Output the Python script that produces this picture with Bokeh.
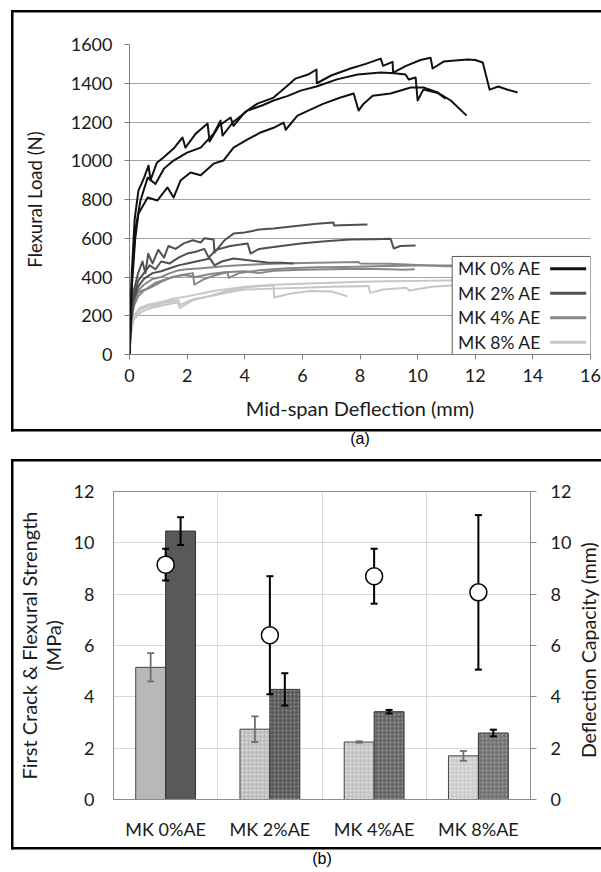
import numpy as np
from bokeh.plotting import figure
from bokeh.layouts import row
from bokeh.models import (Range1d, LinearAxis, FixedTicker, ColumnDataSource, Whisker,
                          TeeHead, Label, Title)
from bokeh.core.properties import value
from bokeh.embed import file_html
from bokeh.resources import INLINE

FONT = "Lato"

# ---------------- panel (a): flexural load vs mid-span deflection ----------------
x_ticks = [0, 2, 4, 6, 8, 10, 12, 14, 16]
y_ticks = [0, 200, 400, 600, 800, 1000, 1200, 1400, 1600]

# MK 0% AE specimens
mk0_1_x = [0, 0.08, 0.18, 0.31, 0.5, 0.66, 0.73, 0.95, 1.18, 1.53, 1.84, 1.94, 2.3, 2.71, 2.78, 3.1,
           3.51, 3.61, 4.0, 4.44, 5.0, 5.49, 5.76, 6.2, 6.49, 6.5, 7.0, 7.67, 8.2, 8.72, 8.8, 9.13,
           9.15, 9.6, 10.1, 10.45, 10.52, 10.9, 11.3, 11.74, 12.0, 12.26, 12.5, 12.8, 13.1, 13.47]
mk0_1_y = [0, 420, 700, 846, 910, 975, 900, 990, 1017, 1063, 1120, 1068, 1140, 1192, 1099, 1180,
           1223, 1180, 1250, 1295, 1326, 1388, 1424, 1445, 1471, 1400, 1440, 1476, 1500, 1527, 1490, 1510,
           1455, 1490, 1520, 1532, 1476, 1512, 1518, 1522, 1520, 1507, 1367, 1383, 1368, 1352]
mk0_2_x = [0, 0.08, 0.2, 0.38, 0.63, 0.9, 1.2, 1.53, 2.0, 2.47, 2.92, 3.16, 3.23, 3.6, 4.1, 4.6,
           5.0, 5.5, 5.94, 6.49, 7.2, 7.92, 8.72, 9.2, 9.58, 9.69, 9.93, 10.0, 10.2, 10.7, 10.97]
mk0_2_y = [0, 380, 640, 795, 913, 880, 960, 1001, 1042, 1068, 1140, 1207, 1130, 1200, 1259, 1285,
           1311, 1335, 1362, 1383, 1420, 1445, 1455, 1452, 1445, 1419, 1430, 1311, 1367, 1350, 1320]
mk0_3_x = [0, 0.08, 0.2, 0.31, 0.63, 0.97, 1.32, 1.53, 1.77, 2.12, 2.47, 2.92, 3.26, 3.61, 4.1, 4.55,
           5.0, 5.35, 5.42, 5.83, 6.3, 6.74, 7.3, 7.78, 7.95, 8.1, 8.44, 9.06, 9.76, 10.2, 10.7, 11.15, 11.7]
mk0_3_y = [0, 350, 600, 727, 810, 795, 862, 810, 898, 939, 925, 985, 1001, 1068, 1110, 1146,
           1170, 1197, 1160, 1233, 1265, 1295, 1325, 1347, 1259, 1290, 1336, 1347, 1378, 1378, 1352, 1311, 1233]

# MK 2% AE specimens
mk2_1_x = [0, 0.05, 0.15, 0.3, 0.45, 0.55, 0.65, 0.8, 1.0, 1.2, 1.35, 1.6, 1.9, 2.2, 2.47, 2.6,
           2.92, 2.95, 3.3, 3.61, 4.0, 4.5, 5.0, 5.94, 6.5, 7.08, 7.1, 7.6, 8.26]
mk2_1_y = [0, 200, 330, 420, 480, 420, 520, 470, 540, 500, 560, 545, 575, 590, 578, 600,
           593, 526, 590, 624, 630, 645, 650, 666, 675, 681, 666, 668, 671]
mk2_2_x = [0, 0.05, 0.15, 0.3, 0.5, 0.7, 0.9, 1.1, 1.4, 1.7, 2.0, 2.3, 2.6, 2.75, 3.0, 3.5,
           4.1, 4.2, 4.5, 5.0, 5.94, 6.8, 7.67, 8.5, 9.06, 9.17, 9.4, 9.93]
mk2_2_y = [0, 180, 300, 380, 420, 460, 440, 480, 470, 500, 521, 530, 545, 500, 540, 560,
           573, 521, 545, 555, 573, 585, 593, 595, 598, 547, 560, 562]
mk2_3_x = [0, 0.05, 0.15, 0.3, 0.5, 0.8, 1.1, 1.4, 1.7, 2.0, 2.47, 2.8, 2.95, 3.2, 3.61, 4.2, 4.79, 5.3, 5.7]
mk2_3_y = [0, 170, 280, 350, 390, 420, 430, 445, 460, 470, 485, 495, 460, 480, 495, 485, 475, 473, 470]

# MK 4% AE specimens
mk4_1_x = [0, 0.05, 0.15, 0.3, 0.5, 0.8, 1.1, 1.4, 1.67, 2.0, 2.5, 3.0, 3.5, 4.0, 5.0, 6.0,
           7.0, 7.95, 8.0, 9.0, 10.0, 11.0, 12.0, 13.0, 13.5]
mk4_1_y = [0, 170, 270, 330, 360, 390, 400, 420, 433, 440, 445, 452, 458, 462, 468, 472,
           475, 478, 470, 468, 462, 456, 455, 455, 455]
mk4_2_x = [0, 0.05, 0.15, 0.3, 0.5, 0.8, 1.1, 1.4, 1.8, 2.2, 2.25, 2.6, 3.0, 3.4, 3.45, 3.8,
           4.5, 5.5, 6.5, 7.5, 8.5, 9.5, 10.5, 11.5, 12.5, 13.0]
mk4_2_y = [0, 150, 250, 300, 330, 350, 375, 395, 410, 420, 360, 390, 410, 425, 395, 420,
           435, 445, 450, 452, 455, 458, 460, 460, 462, 462]
mk4_3_x = [0, 0.05, 0.15, 0.3, 0.6, 0.9, 1.2, 1.5, 1.9, 2.3, 2.8, 3.3, 4.0, 4.5, 5.0, 6.0,
           7.0, 8.0, 9.0, 9.5, 9.9]
mk4_3_y = [0, 160, 260, 320, 340, 370, 385, 400, 410, 400, 415, 425, 430, 420, 432, 438,
           440, 442, 440, 438, 440]

# MK 8% AE specimens
mk8_1_x = [0, 0.05, 0.15, 0.38, 0.6, 0.83, 1.2, 1.67, 1.75, 2.2, 2.81, 3.3, 3.96, 4.5, 5.0,
           5.02, 5.6, 6.28, 7.0, 7.57]
mk8_1_y = [0, 110, 180, 217, 232, 243, 255, 268, 240, 280, 304, 325, 346, 352, 356,
           294, 315, 328, 325, 300]
mk8_2_x = [0, 0.05, 0.15, 0.35, 0.6, 0.9, 1.2, 1.6, 2.0, 2.5, 3.0, 3.5, 4.0, 5.0, 6.0, 7.0,
           8.0, 9.0, 10.0, 11.0, 12.0, 13.0]
mk8_2_y = [0, 120, 200, 240, 255, 265, 275, 290, 300, 315, 330, 340, 350, 360, 365, 370,
           375, 378, 380, 382, 383, 383]
mk8_3_x = [0, 0.05, 0.15, 0.35, 0.6, 0.9, 1.3, 1.7, 1.75, 2.2, 2.8, 3.4, 4.0, 5.0, 6.0, 7.0,
           8.0, 8.3, 8.35, 8.8, 9.6, 9.7, 10.5, 11.2]
mk8_3_y = [0, 110, 190, 230, 245, 255, 270, 280, 255, 285, 300, 320, 335, 340, 345, 350,
           352, 353, 318, 335, 345, 330, 350, 356]

series_names = ["MK 0% AE", "MK 2% AE", "MK 4% AE", "MK 8% AE"]
series = [
    [(mk0_1_x, mk0_1_y), (mk0_2_x, mk0_2_y), (mk0_3_x, mk0_3_y)],
    [(mk2_1_x, mk2_1_y), (mk2_2_x, mk2_2_y), (mk2_3_x, mk2_3_y)],
    [(mk4_1_x, mk4_1_y), (mk4_2_x, mk4_2_y), (mk4_3_x, mk4_3_y)],
    [(mk8_1_x, mk8_1_y), (mk8_2_x, mk8_2_y), (mk8_3_x, mk8_3_y)],
]
series_colors = ["#111111", "#505050", "#878787", "#c6c6c6"]


def panel_box(width, top, bottom, left=None, lw=2.5):
    """CSS background painting the black panel border behind a transparent canvas border.

    Horizontal rules run from `left` (or the element's left edge) to its right edge;
    a vertical rule is drawn at `left` when given.
    """
    x0 = 0 if left is None else left
    w = width - x0
    layers = [(f"{w}px {lw}px", f"{x0}px {top}px"), (f"{w}px {lw}px", f"{x0}px {bottom}px")]
    if left is not None:
        layers.append((f"{lw}px {bottom - top + lw}px", f"{left}px {top}px"))
    return {
        "background-color": "white",
        "background-image": ", ".join(["linear-gradient(#000, #000)"] * len(layers)),
        "background-repeat": "no-repeat",
        "background-size": ", ".join(s for s, _ in layers),
        "background-position": ", ".join(p for _, p in layers),
    }


# frame geometry of panel (a), in canvas pixels
A_W, A_H = 601, 456
A_LEFT, A_RIGHT, A_TOP, A_BOTTOM = 129, 590, 44, 354

p1 = figure(width=A_W, height=A_H, x_range=Range1d(0, 16), y_range=Range1d(0, 1600),
            output_backend="svg", toolbar_location=None,
            min_border_left=A_LEFT, min_border_right=A_W - A_RIGHT,
            min_border_top=A_TOP, min_border_bottom=A_H - A_BOTTOM)
p1.border_fill_alpha = 0
p1.background_fill_color = "white"
p1.styles = panel_box(A_W, top=10, bottom=429, left=11)
p1.outline_line_color = None
p1.xgrid.visible = False
p1.ygrid.grid_line_color = "#a3a3a3"
p1.ygrid.ticker = FixedTicker(ticks=y_ticks)
p1.xaxis.ticker = FixedTicker(ticks=x_ticks)
p1.yaxis.ticker = FixedTicker(ticks=y_ticks)
for ax in (p1.xaxis[0], p1.yaxis[0]):
    ax.axis_line_color = "#7f7f7f"
    ax.major_tick_line_color = "#7f7f7f"
    ax.major_tick_in = 0
    ax.major_tick_out = 5
    ax.minor_tick_line_color = None
    ax.major_label_text_font = FONT
    ax.major_label_text_font_size = "18px"
    ax.major_label_text_color = "#1a1a1a"
    ax.axis_label_text_font = FONT
    ax.axis_label_text_font_style = "normal"
    ax.axis_label_text_color = "#1a1a1a"
p1.yaxis.axis_label = "Flexural Load (N)"
p1.yaxis.axis_label_text_font_size = "18.5px"
p1.xaxis.axis_label = "Mid-span Deflection (mm)"
p1.xaxis.axis_label_text_font_size = "20px"
p1.yaxis.major_label_standoff = 12
p1.yaxis.axis_label_standoff = 22
p1.xaxis.major_label_standoff = 9
p1.xaxis.axis_label_standoff = 11

# lighter series first so the black curves sit on top
for gi in [3, 2, 1, 0]:
    for xs, ys in series[gi]:
        p1.line(xs, ys, line_color=series_colors[gi], line_width=2, line_join="round")

# legend: white box, names on the left, line samples on the right
box_left, box_top = 11.2, 506
row_h = box_top / len(series_names)
row_y = [box_top - (i + 0.5) * row_h for i in range(len(series_names))]
p1.quad(left=box_left, right=16, bottom=0, top=box_top, fill_color="white",
        line_color="#595959", line_width=1)
p1.segment(x0=14.6, x1=15.85, y0=row_y, y1=row_y, line_color=series_colors, line_width=3)
for name, yy in zip(series_names, row_y):
    p1.add_layout(Label(x=box_left + 0.2, y=yy, text=name, text_baseline="middle",
                        text_font=FONT, text_font_size="17.5px", text_color="#1a1a1a"))

p1.add_layout(Title(text="(a)", align="center", offset=300 - (A_LEFT + A_RIGHT) / 2,
                    standoff=10, text_font="Liberation Sans", text_font_size="16px",
                    text_font_style="normal", text_color="black"), "below")

# ---------------- panel (b): strengths and deflection capacity ----------------
mixes = ["MK 0%AE", "MK 2%AE", "MK 4%AE", "MK 8%AE"]
first_crack = [5.15, 2.74, 2.24, 1.70]
first_crack_err = [0.55, 0.50, 0.03, 0.19]
flexural = [10.46, 4.29, 3.42, 2.59]
flexural_err = [0.54, 0.63, 0.07, 0.13]
deflection = [9.15, 6.40, 8.70, 8.07]
deflection_err = [0.62, 2.30, 1.07, 3.01]
strength_ticks = [0, 2, 4, 6, 8, 10, 12]

fc_fill = ["#b8b8b8", "#bdbdbd", "#c4c4c4", "#cdcdcd"]
fl_fill = ["#595959", "#5c5c5c", "#676767", "#747474"]
patterns = [" ", "dot", "dot", "dot"]

xc = np.arange(len(mixes)) + 0.5
bar_w = 0.287
fc = np.array(first_crack)
fl = np.array(flexural)
dv = np.array(deflection)
src = ColumnDataSource(dict(
    x=xc, x_fc=xc - bar_w / 2, x_fl=xc + bar_w / 2,
    fc=fc, fc_lo=fc - np.array(first_crack_err), fc_hi=fc + np.array(first_crack_err),
    fl=fl, fl_lo=fl - np.array(flexural_err), fl_hi=fl + np.array(flexural_err),
    dv=dv, dv_lo=dv - np.array(deflection_err), dv_hi=dv + np.array(deflection_err),
    fc_fill=fc_fill, fl_fill=fl_fill, pat=patterns,
))

# frame geometry of panel (b); a narrow strip to its right carries the right-hand title
B_H = 416
STRIP_W = 27
B_W = 601 - STRIP_W
B_LEFT, B_RIGHT, B_TOP, B_BOTTOM = 113, 531, 35, 346
BOX_TOP, BOX_BOTTOM = 3, 391

p2 = figure(width=B_W, height=B_H, x_range=Range1d(0, 4), y_range=Range1d(0, 12),
            output_backend="svg", toolbar_location=None,
            min_border_left=B_LEFT, min_border_right=B_W - B_RIGHT,
            min_border_top=B_TOP, min_border_bottom=B_H - B_BOTTOM)
p2.border_fill_alpha = 0
p2.background_fill_color = "white"
p2.styles = panel_box(B_W, top=BOX_TOP, bottom=BOX_BOTTOM, left=11)
p2.extra_y_ranges = {"defl": Range1d(0, 12)}
p2.outline_line_color = "#8c8c8c"
p2.ygrid.grid_line_color = "#d9d9d9"
p2.ygrid.ticker = FixedTicker(ticks=strength_ticks)
p2.xgrid.grid_line_color = "#d9d9d9"
p2.xgrid.ticker = FixedTicker(ticks=[1, 2, 3])

p2.xaxis.ticker = FixedTicker(ticks=list(xc))
p2.xaxis.major_label_overrides = {float(v): m for v, m in zip(xc, mixes)}
left_axis = p2.yaxis[0]
left_axis.ticker = FixedTicker(ticks=strength_ticks)
right_axis = LinearAxis(y_range_name="defl", ticker=FixedTicker(ticks=strength_ticks))
p2.add_layout(right_axis, "right")
for ax in (p2.xaxis[0], left_axis, right_axis):
    ax.axis_line_color = "#8c8c8c"
    ax.major_tick_line_color = "#8c8c8c"
    ax.major_tick_in = 0
    ax.major_tick_out = 0
    ax.minor_tick_line_color = None
    ax.major_label_text_font = FONT
    ax.major_label_text_font_size = "18px"
    ax.major_label_text_color = "#1a1a1a"
    ax.axis_label_text_font = FONT
    ax.axis_label_text_font_size = "20px"
    ax.axis_label_text_font_style = "normal"
    ax.axis_label_text_color = "#1a1a1a"
    ax.axis_label_text_line_height = 1.0
right_axis.major_tick_out = 6
right_axis.major_label_standoff = 14
left_axis.axis_label = "First Crack & Flexural Strength\n(MPa)"
left_axis.major_label_standoff = 19
left_axis.axis_label_standoff = 6
p2.xaxis.major_label_standoff = 18

p2.vbar(x="x_fc", top="fc", width=bar_w, source=src, fill_color="fc_fill",
        line_color="#444444", line_width=1, hatch_pattern="pat", hatch_color="white",
        hatch_alpha=0.55, hatch_scale=4, hatch_weight=1)
p2.vbar(x="x_fl", top="fl", width=bar_w, source=src, fill_color="fl_fill",
        line_color="#333333", line_width=1, hatch_pattern="pat", hatch_color="#d0d0d0",
        hatch_alpha=0.5, hatch_scale=4, hatch_weight=1)

p2.add_layout(Whisker(source=src, base="x_fc", upper="fc_hi", lower="fc_lo",
                      line_color="#6e6e6e", line_width=1.8, level="annotation",
                      upper_head=TeeHead(size=7, line_color="#6e6e6e", line_width=1.8),
                      lower_head=TeeHead(size=7, line_color="#6e6e6e", line_width=1.8)))
p2.add_layout(Whisker(source=src, base="x_fl", upper="fl_hi", lower="fl_lo",
                      line_color="black", line_width=2, level="annotation",
                      upper_head=TeeHead(size=7, line_color="black", line_width=2),
                      lower_head=TeeHead(size=7, line_color="black", line_width=2)))
p2.add_layout(Whisker(source=src, base="x", upper="dv_hi", lower="dv_lo", y_range_name="defl",
                      line_color="black", line_width=2, level="annotation",
                      upper_head=TeeHead(size=7, line_color="black", line_width=2),
                      lower_head=TeeHead(size=7, line_color="black", line_width=2)))
dots = p2.scatter("x", "dv", source=src, y_range_name="defl", marker="circle", size=17,
                  fill_color="white", line_color="black", line_width=1.5)
dots.level = "overlay"

p2.add_layout(Title(text="(b)", align="center", offset=300 - (B_LEFT + B_RIGHT) / 2,
                    standoff=11, text_font="Liberation Sans", text_font_size="16px",
                    text_font_style="normal", text_color="black"), "below")

# strip holding the right-hand axis title, reading bottom to top;
# its frame spans the same vertical extent as panel (b)'s frame
p3 = figure(width=STRIP_W, height=B_H, x_range=Range1d(0, 1), y_range=Range1d(0, 12),
            x_axis_type=None, y_axis_type=None, output_backend="svg", toolbar_location=None,
            min_border_left=0, min_border_right=0,
            min_border_top=B_TOP, min_border_bottom=B_H - B_BOTTOM)
p3.border_fill_alpha = 0
p3.background_fill_alpha = 0
p3.outline_line_color = None
p3.grid.visible = False
p3.styles = panel_box(STRIP_W, top=BOX_TOP, bottom=BOX_BOTTOM)
title_mid = 12 * (B_BOTTOM - (651 - 456)) / (B_BOTTOM - B_TOP)
p3.text(x=[0.5], y=[title_mid], text=["Deflection Capacity (mm)"], angle=np.pi / 2,
        text_align="center", text_baseline="middle", text_font=value(FONT),
        text_font_size=value("19.5px"), text_color="#1a1a1a")

# two independent roots so each panel keeps its own frame geometry
open("out.html", "w").write(file_html([p1, row(p2, p3)], INLINE))
